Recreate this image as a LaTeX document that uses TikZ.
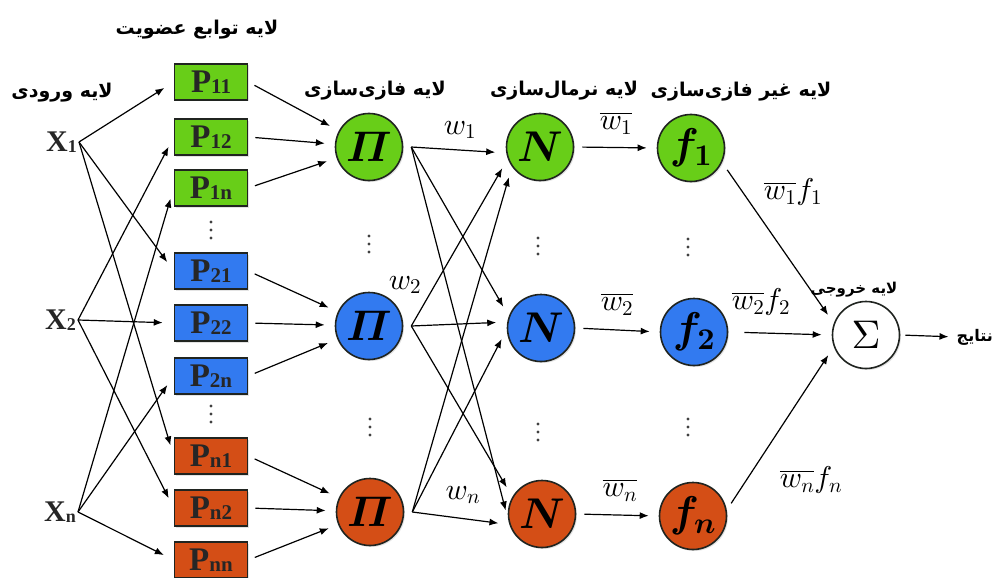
\documentclass[tikz,border=0pt]{standalone}
\usepackage{amsmath}
\usepackage{fontspec}
\setmainfont{Liberation Serif}
\newfontfamily\farsi[Script=Arabic]{DejaVu Sans}
\TeXXeTstate=1
\usetikzlibrary{arrows.meta,shadows}

% scalable Computer Modern math shapes, so large formulas keep their size
\DeclareFontShape{OML}{cmm}{m}{it}{<->cmmi10}{}
\DeclareFontShape{OML}{cmm}{b}{it}{<->cmmib10}{}
\DeclareFontShape{OMS}{cmsy}{m}{n}{<->cmsy10}{}
\DeclareFontShape{OMS}{cmsy}{b}{n}{<->cmbsy10}{}
\DeclareFontShape{OT1}{cmr}{m}{n}{<->cmr10}{}
\DeclareFontShape{OT1}{cmr}{bx}{n}{<->cmbx10}{}

\definecolor{rulegreen}{RGB}{104,206,24}
\definecolor{ruleblue}{RGB}{50,122,240}
\definecolor{ruleorange}{RGB}{212,78,22}
\definecolor{rim}{RGB}{32,36,32}

% Persian caption, set right to left
\newcommand\fatext[1]{\beginR #1\endR}
% membership-function label: P with small digits beside it
\newcommand\mflab[2]{#1\raisebox{-1.5pt}{\fontsize{21}{21}\selectfont #2}}

\tikzset{
  conn/.style={-{Latex[length=9pt,width=7pt]}, line width=1.2pt, black},
  softshadow/.style={drop shadow={opacity=0.22, shadow xshift=1.5pt, shadow yshift=-1.5pt}},
  mfbox/.style={draw=rim, line width=1.6pt, minimum width=73pt, minimum height=36pt,
                inner sep=0pt, font=\bfseries\fontsize{33}{33}\selectfont, text=black!85, softshadow},
  unit/.style={circle, draw=rim, line width=1.6pt, minimum size=67pt, inner sep=0pt,
               font=\boldmath\fontsize{43}{43}\selectfont, softshadow},
  sumunit/.style={unit, font=\fontsize{40}{40}\selectfont},
  layer/.style={font=\farsi\bfseries\fontsize{19}{19}\selectfont, inner sep=0pt},
  wlab/.style={font=\fontsize{30}{30}\selectfont, inner sep=0pt},
  xin/.style={anchor=east, inner sep=2pt, font=\bfseries\fontsize{30}{30}\selectfont, text=black!85},
  vdots3/.pic={\foreach \d in {-8,0,8} \fill[black!75] (0,\d) circle[radius=1.7pt];}
}

\begin{document}
\begin{tikzpicture}[x=1pt,y=-1pt]
\useasboundingbox (0,0) rectangle (994,578);

% layer captions
\node[layer] (capmf)   at (197,30)  {\fatext{لایه توابع عضویت}};
\node[layer] (capin)   at (62,93)   {\fatext{لایه ورودی}};
\node[layer] (capfz)   at (375,91)  {\fatext{لایه فازی‌سازی}};
\node[layer] (capnorm) at (564,91)  {\fatext{لایه نرمال‌سازی}};
\node[layer] (capdef)  at (741,92)  {\fatext{لایه غیر فازی‌سازی}};
\node[layer, font=\farsi\bfseries\fontsize{15}{15}\selectfont] (capout) at (854,290) {\fatext{لایه خروجی}};

% inputs
\node[xin] (x1) at (79,142) {X\raisebox{-1pt}{\fontsize{18}{18}\selectfont 1}};
\node[xin] (x2) at (78,320) {X\raisebox{-1pt}{\fontsize{18}{18}\selectfont 2}};
\node[xin] (xn) at (78,512) {X\raisebox{-1pt}{\fontsize{18}{18}\selectfont n}};

% membership functions
\node[mfbox, fill=rulegreen]  (p11) at (211,82)  {\mflab{P}{11}};
\node[mfbox, fill=rulegreen]  (p12) at (211,137) {\mflab{P}{12}};
\node[mfbox, fill=rulegreen]  (p1n) at (211,188) {\mflab{P}{1n}};
\node[mfbox, fill=ruleblue]   (p21) at (211,271) {\mflab{P}{21}};
\node[mfbox, fill=ruleblue]   (p22) at (211,323) {\mflab{P}{22}};
\node[mfbox, fill=ruleblue]   (p2n) at (211,376) {\mflab{P}{2n}};
\node[mfbox, fill=ruleorange] (pn1) at (211,456) {\mflab{P}{n1}};
\node[mfbox, fill=ruleorange] (pn2) at (211,508) {\mflab{P}{n2}};
\node[mfbox, fill=ruleorange] (pnn) at (211,560) {\mflab{P}{nn}};

% rule (product) nodes
\node[unit, fill=rulegreen]  (pi1) at (369,147) {$\varPi$};
\node[unit, fill=ruleblue]   (pi2) at (369,326) {$\varPi$};
\node[unit, fill=ruleorange] (pi3) at (370,512) {$\varPi$};

% normalisation nodes
\node[unit, fill=rulegreen]  (n1) at (540,147) {$N$};
\node[unit, fill=ruleblue]   (n2) at (541,328) {$N$};
\node[unit, fill=ruleorange] (n3) at (542,514) {$N$};

% consequent nodes
\node[unit, fill=rulegreen]  (f1) at (691,148) {$f_1$};
\node[unit, fill=ruleblue]   (f2) at (694,332) {$f_2$};
\node[unit, fill=ruleorange] (f3) at (693,516) {$f_n$};

% summation and result
\node[sumunit, fill=white] (sig) at (866,335) {$\Sigma$};
\node[layer, anchor=east, font=\farsi\bfseries\fontsize{16}{16}\selectfont] (res) at (993,337) {\fatext{نتایج}};

% vertical ellipses between rows
\pic at (211,230) {vdots3};
\pic at (211,414) {vdots3};
\pic at (369,244) {vdots3};
\pic at (370,427) {vdots3};
\pic at (538,246) {vdots3};
\pic at (538,432) {vdots3};
\pic at (688,247) {vdots3};
\pic at (688,427) {vdots3};

% inputs to membership functions
\foreach \s/\t in {x1/p11, x1/p21, x1/pn1, x2/p12, x2/p22, x2/pn2, xn/p1n, xn/p2n, xn/pnn}
  \draw[conn, shorten >=11pt] (\s.east) -- (\t.west);

% membership functions to rule nodes
\foreach \s/\t in {p11/pi1, p12/pi1, p1n/pi1, p21/pi2, p22/pi2, p2n/pi2, pn1/pi3, pn2/pi3, pnn/pi3}
  \draw[conn, shorten <=7pt, shorten >=10pt] (\s.east) -- (\t);

% rule nodes to normalisation nodes
\foreach \s/\t in {pi1/n1.190, pi1/n2.160, pi1/n3.192,
                   pi2/n1.200, pi2/n2.170, pi2/n3.150,
                   pi3/n1.215, pi3/n2.182, pi3/n3.198}
  \draw[conn, shorten >=11pt] ([xshift=8pt]\s.east) -- (\t);

% normalised weights to consequents
\draw[conn, shorten <=8pt, shorten >=10pt] (n1.east) -- (f1.west);
\draw[conn, shorten <=8pt, shorten >=10pt] (n2.east) -- (f2.west);
\draw[conn, shorten <=8pt, shorten >=10pt] (n3.east) -- (f3.west);

% consequents to the sum
\draw[conn, shorten <=9pt, shorten >=10pt] (f1.-25) -- (sig.160);
\draw[conn, shorten <=16pt, shorten >=10pt] (f2.east) -- (sig.west);
\draw[conn, shorten <=8pt, shorten >=10pt] (f3.10) -- (sig.200);

% output
\draw[conn, shorten <=5pt, shorten >=8pt] (sig.east) -- (res.west);

% weight labels
\node[wlab] (lw1) at (460,130) {$w_1$};
\node[wlab] (lw2) at (405,285) {$w_2$};
\node[wlab] (lwn) at (463,495) {$w_n$};
\node[wlab] (lb1) at (616,123) {$\overline{w_1}$};
\node[wlab] (lb2) at (617,304) {$\overline{w_2}$};
\node[wlab] (lbn) at (620,490) {$\overline{w_n}$};
\node[wlab] (lf1) at (793,192) {$\overline{w_1}f_1$};
\node[wlab] (lf2) at (761,302) {$\overline{w_2}f_2$};
\node[wlab] (lfn) at (811,480) {$\overline{w_n}f_n$};
\end{tikzpicture}
\end{document}
